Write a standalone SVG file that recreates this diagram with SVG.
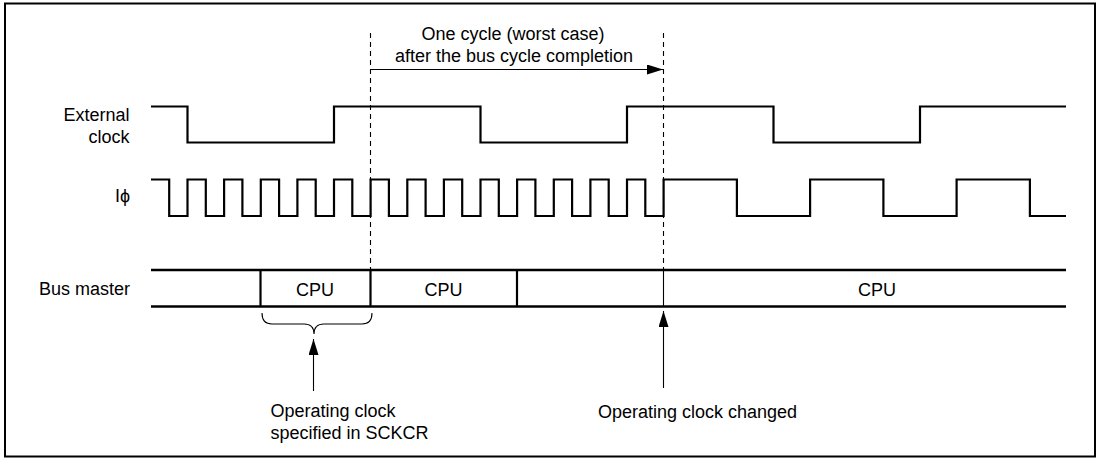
<svg xmlns="http://www.w3.org/2000/svg" width="1100" height="459" viewBox="0 0 1100 459">
<defs>
<style>
text{font-family:"Liberation Sans",Arial,sans-serif;font-size:18px;fill:#000}
.lbl{text-anchor:end}
.mid{text-anchor:middle}
.sig{fill:none;stroke:#000;stroke-width:2.2;stroke-linejoin:miter}
.bus{fill:none;stroke:#000;stroke-width:2.4}
.sep{stroke:#000;stroke-width:2.2}
.thin{stroke:#000;stroke-width:1.1;fill:none}
.dash{stroke:#000;stroke-width:1.1;stroke-dasharray:5,4;fill:none}
</style>
<marker id="ah" markerWidth="16" markerHeight="10" refX="16" refY="5" orient="auto" markerUnits="userSpaceOnUse">
<path d="M0,0 L16,5 L0,10 Z" fill="#000"/>
</marker>
</defs>
<rect x="5" y="3.5" width="1090" height="453" fill="#fff" stroke="#000" stroke-width="2"/>

<g id="labels">
<text class="lbl" x="129.5" y="121">External</text>
<text class="lbl" x="129.5" y="143">clock</text>
<text class="lbl" x="130" y="202">Iϕ</text>
<text class="lbl" x="130" y="294.5">Bus master</text>
<text class="mid" x="513" y="40">One cycle (worst case)</text>
<text class="mid" x="514" y="61.5">after the bus cycle completion</text>
<text x="270.5" y="417">Operating clock</text>
<text x="270.5" y="439">specified in SCKCR</text>
<text x="598" y="418">Operating clock changed</text>
</g>

<g id="external-clock">
<path class="sig" d="M151,106.5 H187.5 V142.5 H334 V106.5 H480.5 V142.5 H627 V106.5 H773.5 V142.5 H920 V106.5 H1066"/>
</g>

<g id="iphi">
<path class="sig" d="M151,179.5 H169.2 V216 H187.5 V179.5 H205.8 V216 H224.1 V179.5 H242.4 V216 H260.8 V179.5 H279.1 V216 H297.4 V179.5 H315.7 V216 H334 V179.5 H352.3 V216 H370.6 V179.5 H388.9 V216 H407.3 V179.5 H425.6 V216 H443.9 V179.5 H462.2 V216 H480.5 V179.5 H498.8 V216 H517.1 V179.5 H535.4 V216 H553.8 V179.5 H572.1 V216 H590.4 V179.5 H608.7 V216 H627 V179.5 H645.3 V216 H663.6 V179.5 H736.9 V216 H810.1 V179.5 H883.4 V216 H956.6 V179.5 H1029.9 V216 H1066"/>
</g>

<g id="bus-master">
<line class="bus" x1="151" y1="270" x2="1066" y2="270"/>
<line class="bus" x1="151" y1="306.5" x2="1066" y2="306.5"/>
<g id="cell-cpu1">
<line class="sep" x1="260.5" y1="270" x2="260.5" y2="306.5"/>
<text class="mid" x="315" y="295.5">CPU</text>
</g>
<g id="cell-cpu2">
<line class="sep" x1="370.5" y1="270" x2="370.5" y2="306.5"/>
<text class="mid" x="443.5" y="295.5">CPU</text>
</g>
<g id="cell-idle">
<line class="sep" x1="517" y1="270" x2="517" y2="306.5"/>
</g>
<g id="cell-cpu3">
<line class="thin" x1="663.5" y1="270" x2="663.5" y2="306.5"/>
<text class="mid" x="877" y="295.5">CPU</text>
</g>
</g>

<g id="connectors">
<line class="dash" x1="370.5" y1="33" x2="370.5" y2="270"/>
<line class="dash" x1="663.5" y1="33" x2="663.5" y2="270"/>
<line class="thin" x1="370.5" y1="69.5" x2="663" y2="69.5" marker-end="url(#ah)"/>
<path class="thin" stroke-width="1.4" d="M262,313 Q262,324 272,324 H304 Q314,324 314,334 Q314,324 324,324 H362 Q372,324 372,313"/>
<line class="thin" x1="313.5" y1="391" x2="313.5" y2="339" marker-end="url(#ah)"/>
<line class="thin" x1="663.5" y1="388" x2="663.5" y2="311" marker-end="url(#ah)"/>
</g>
</svg>
